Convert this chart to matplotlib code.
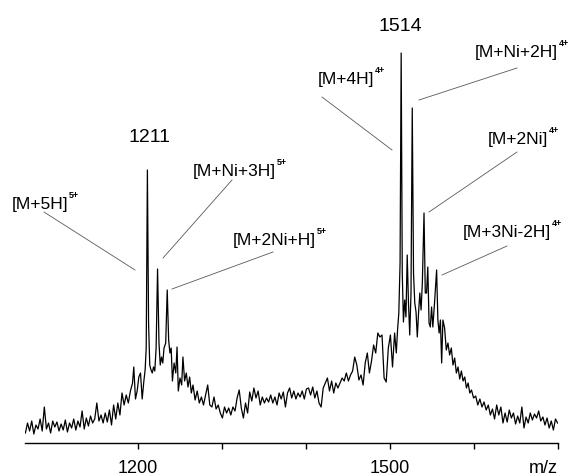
import matplotlib
matplotlib.use("Agg")
import matplotlib.pyplot as plt
from matplotlib.lines import Line2D

plt.rcParams['font.family'] = ['Liberation Sans', 'DejaVu Sans']

# m/z axis values and intensity (arbitrary units)
mz = [
    1066, 1068.5, 1071, 1073.5, 1076, 1078.5, 1081, 1083.5, 1086, 1088.5,
    1091, 1093.5, 1096, 1098.5, 1101, 1103.5, 1106, 1108.5, 1111, 1113.5,
    1116, 1118.5, 1121, 1123.5, 1126, 1128.5, 1131, 1133.5, 1136, 1138.5,
    1141, 1143.5, 1146, 1148.5, 1151, 1153.5, 1156, 1158.5, 1161, 1163.5,
    1166, 1168.5, 1171, 1173.5, 1176, 1178.5, 1181, 1183.5, 1186, 1188.5,
    1191, 1193.5, 1195, 1197, 1199, 1201, 1203, 1205, 1207, 1208.5,
    1209.8, 1211.2, 1212.6, 1214, 1215.5, 1217, 1218.5, 1220, 1221.6, 1223.3,
    1225, 1226.5, 1228, 1229.5, 1231, 1233, 1234.8, 1236.5, 1238, 1239.5,
    1241, 1243, 1245, 1246.5, 1248, 1250, 1252, 1253.5, 1255.5, 1257.5,
    1259.5, 1261.5, 1263.5, 1265.5, 1268, 1270.5, 1273, 1275.5, 1278, 1280.5,
    1283, 1285.5, 1288, 1290.5, 1293, 1295.5, 1298, 1300.5, 1303, 1305.5,
    1308, 1310.5, 1313, 1315.5, 1318, 1320.5, 1323, 1325.5, 1328, 1330.5,
    1333, 1335.5, 1338, 1340.5, 1343, 1345.5, 1348, 1350.5, 1353, 1355.5,
    1358, 1360.5, 1363, 1365.5, 1368, 1370.5, 1373, 1375.5, 1378, 1380.5,
    1383, 1385.5, 1388, 1390.5, 1393, 1395.5, 1398, 1400.5, 1403, 1405.5,
    1408, 1410.5, 1413, 1415.5, 1418, 1420.5, 1423, 1425.5, 1428, 1430.5,
    1433, 1435.5, 1438, 1440.5, 1443, 1445.5, 1448, 1450.5, 1453, 1455.5,
    1458, 1460.5, 1463, 1465.5, 1468, 1470.5, 1473, 1475.5, 1478, 1480.5,
    1483, 1485.5, 1488, 1490.5, 1493, 1495.5, 1498, 1500.5, 1503, 1505.5,
    1507.5, 1509, 1510.5, 1512, 1513.3, 1514.6, 1516, 1517.5, 1519, 1520.5,
    1522, 1523.5, 1525, 1526.5, 1528, 1529.5, 1531, 1532.5, 1534, 1535.5,
    1537, 1538.5, 1540.5, 1542, 1543.5, 1545, 1546.5, 1548, 1549.5, 1551,
    1553, 1555.5, 1557, 1558.5, 1560, 1561.5, 1563, 1565, 1567, 1569,
    1571, 1573, 1575, 1577, 1579, 1581, 1583, 1585, 1587, 1589,
    1591, 1593, 1595, 1597, 1599.5, 1602, 1604.5, 1607, 1609.5, 1612,
    1614.5, 1617, 1619.5, 1622, 1624.5, 1627, 1629.5, 1632, 1634.5, 1637,
    1639.5, 1642, 1644.5, 1647, 1649.5, 1652, 1654.5, 1657, 1659.5, 1662,
    1664.5, 1667, 1669.5, 1672, 1674.5, 1677, 1679.5, 1682, 1684.5, 1687,
    1689.5, 1692, 1694.5, 1697, 1699.5,
]
intensity = [
    10, 20, 12, 22, 9, 18, 14, 24, 12, 36,
    14, 20, 10, 22, 16, 21, 12, 19, 13, 23,
    11, 20, 15, 24, 13, 22, 16, 32, 14, 25,
    17, 27, 20, 24, 40, 22, 28, 20, 30, 21,
    33, 18, 38, 24, 40, 28, 50, 38, 48, 40,
    52, 60, 76, 44, 52, 66, 70, 44, 62, 73,
    95, 273, 120, 78, 73, 70, 76, 72, 95, 174,
    100, 78, 86, 80, 95, 100, 153, 103, 90, 95,
    62, 80, 70, 96, 52, 65, 58, 86, 62, 70,
    56, 66, 50, 58, 43, 52, 40, 46, 38, 48,
    58, 38, 36, 46, 34, 38, 30, 25, 36, 30,
    35, 28, 36, 32, 45, 53, 35, 25, 40, 30,
    51, 42, 55, 45, 52, 38, 46, 40, 45, 41,
    48, 40, 46, 38, 50, 44, 51, 36, 50, 55,
    45, 52, 44, 50, 46, 52, 44, 54, 55, 48,
    56, 45, 52, 40, 36, 55, 60, 65, 52, 62,
    50, 60, 55, 60, 65, 62, 70, 62, 68, 72,
    86, 78, 63, 68, 58, 80, 90, 70, 82, 98,
    90, 110, 106, 108, 65, 61, 95, 108, 76, 110,
    90, 113, 130, 180, 390, 170, 121, 143, 126, 188,
    140, 108, 150, 335, 170, 140, 131, 106, 130, 150,
    133, 160, 230, 150, 150, 176, 120, 116, 136, 116,
    140, 173, 123, 110, 123, 80, 123, 115, 93, 100,
    88, 95, 78, 85, 70, 76, 64, 72, 62, 66,
    55, 60, 50, 53, 45, 47, 38, 44, 36, 41,
    33, 38, 28, 34, 24, 38, 28, 36, 20, 30,
    21, 33, 25, 30, 19, 27, 20, 36, 15, 26,
    20, 30, 23, 29, 25, 32, 22, 26, 18, 25,
    15, 22, 13, 24, 20,
]

tick_values = [1200, 1300, 1400, 1500, 1600, 1700]
tick_labels = ['1200', '', '', '1500', '', '']

peak_numbers = ['1211', '1514']
ion_labels = ['[M+5H]', '[M+Ni+3H]', '[M+2Ni+H]', '[M+4H]',
              '[M+Ni+2H]', '[M+2Ni]', '[M+3Ni-2H]']
ion_charges = ['5+', '5+', '5+', '4+', '4+', '4+', '4+']

W, H = 579, 476
fig = plt.figure(figsize=(W / 100, H / 100), dpi=100)
ax = fig.add_axes([25 / W, 33 / H, 533 / W, 443 / H])
ax.plot(mz, intensity, color='black', lw=0.9)
ax.set_xlim(1065.5, 1700)
ax.set_ylim(0, 443)
for s in ['top', 'right', 'left']:
    ax.spines[s].set_visible(False)
ax.spines['bottom'].set_linewidth(1.0)
ax.set_yticks([])
ax.set_xticks(tick_values)
ax.set_xticklabels(tick_labels, fontsize=13)
ax.tick_params(axis='x', direction='out', length=4, width=1, pad=8)


def fx(x):
    return x / W


def fy(y):
    return 1 - y / H


fig.text(fx(558), fy(473), 'm/z', ha='right', va='baseline', fontsize=13)

# peak numbers (center x, baseline y in pixels)
num_pos = [(149, 142), (400, 31)]
for t, (x, y) in zip(peak_numbers, num_pos):
    fig.text(fx(x), fy(y), t, ha='center', va='baseline', fontsize=14)

# ion labels: left x, baseline y (pixels)
lab_pos = [(12, 209), (193, 176), (233, 245), (318, 84),
           (475, 57), (488, 144), (463, 237)]
texts = []
for t, (x, y) in zip(ion_labels, lab_pos):
    texts.append(fig.text(fx(x), fy(y), t, ha='left', va='baseline', fontsize=12.5))

fig.canvas.draw()
r = fig.canvas.get_renderer()
for txt, ch, (x, y) in zip(texts, ion_charges, lab_pos):
    bb = txt.get_window_extent(renderer=r)
    fig.text((bb.x1 + 0.5) / W, fy(y - 11), ch, ha='left', va='baseline',
             fontsize=6.5, fontweight='bold')

# leader lines (pixel endpoints)
leaders = [((44, 212), (135, 270)),
           ((232, 180), (163, 258)),
           ((273, 252), (172, 289)),
           ((322, 97), (392, 150)),
           ((517, 68), (419, 100)),
           ((517, 152), (429, 212)),
           ((507, 246), (442, 275))]
for (x0, y0), (x1, y1) in leaders:
    fig.add_artist(Line2D([fx(x0), fx(x1)], [fy(y0), fy(y1)],
                          transform=fig.transFigure, color='0.35', lw=0.6))

fig.savefig('out.png', dpi=100)
